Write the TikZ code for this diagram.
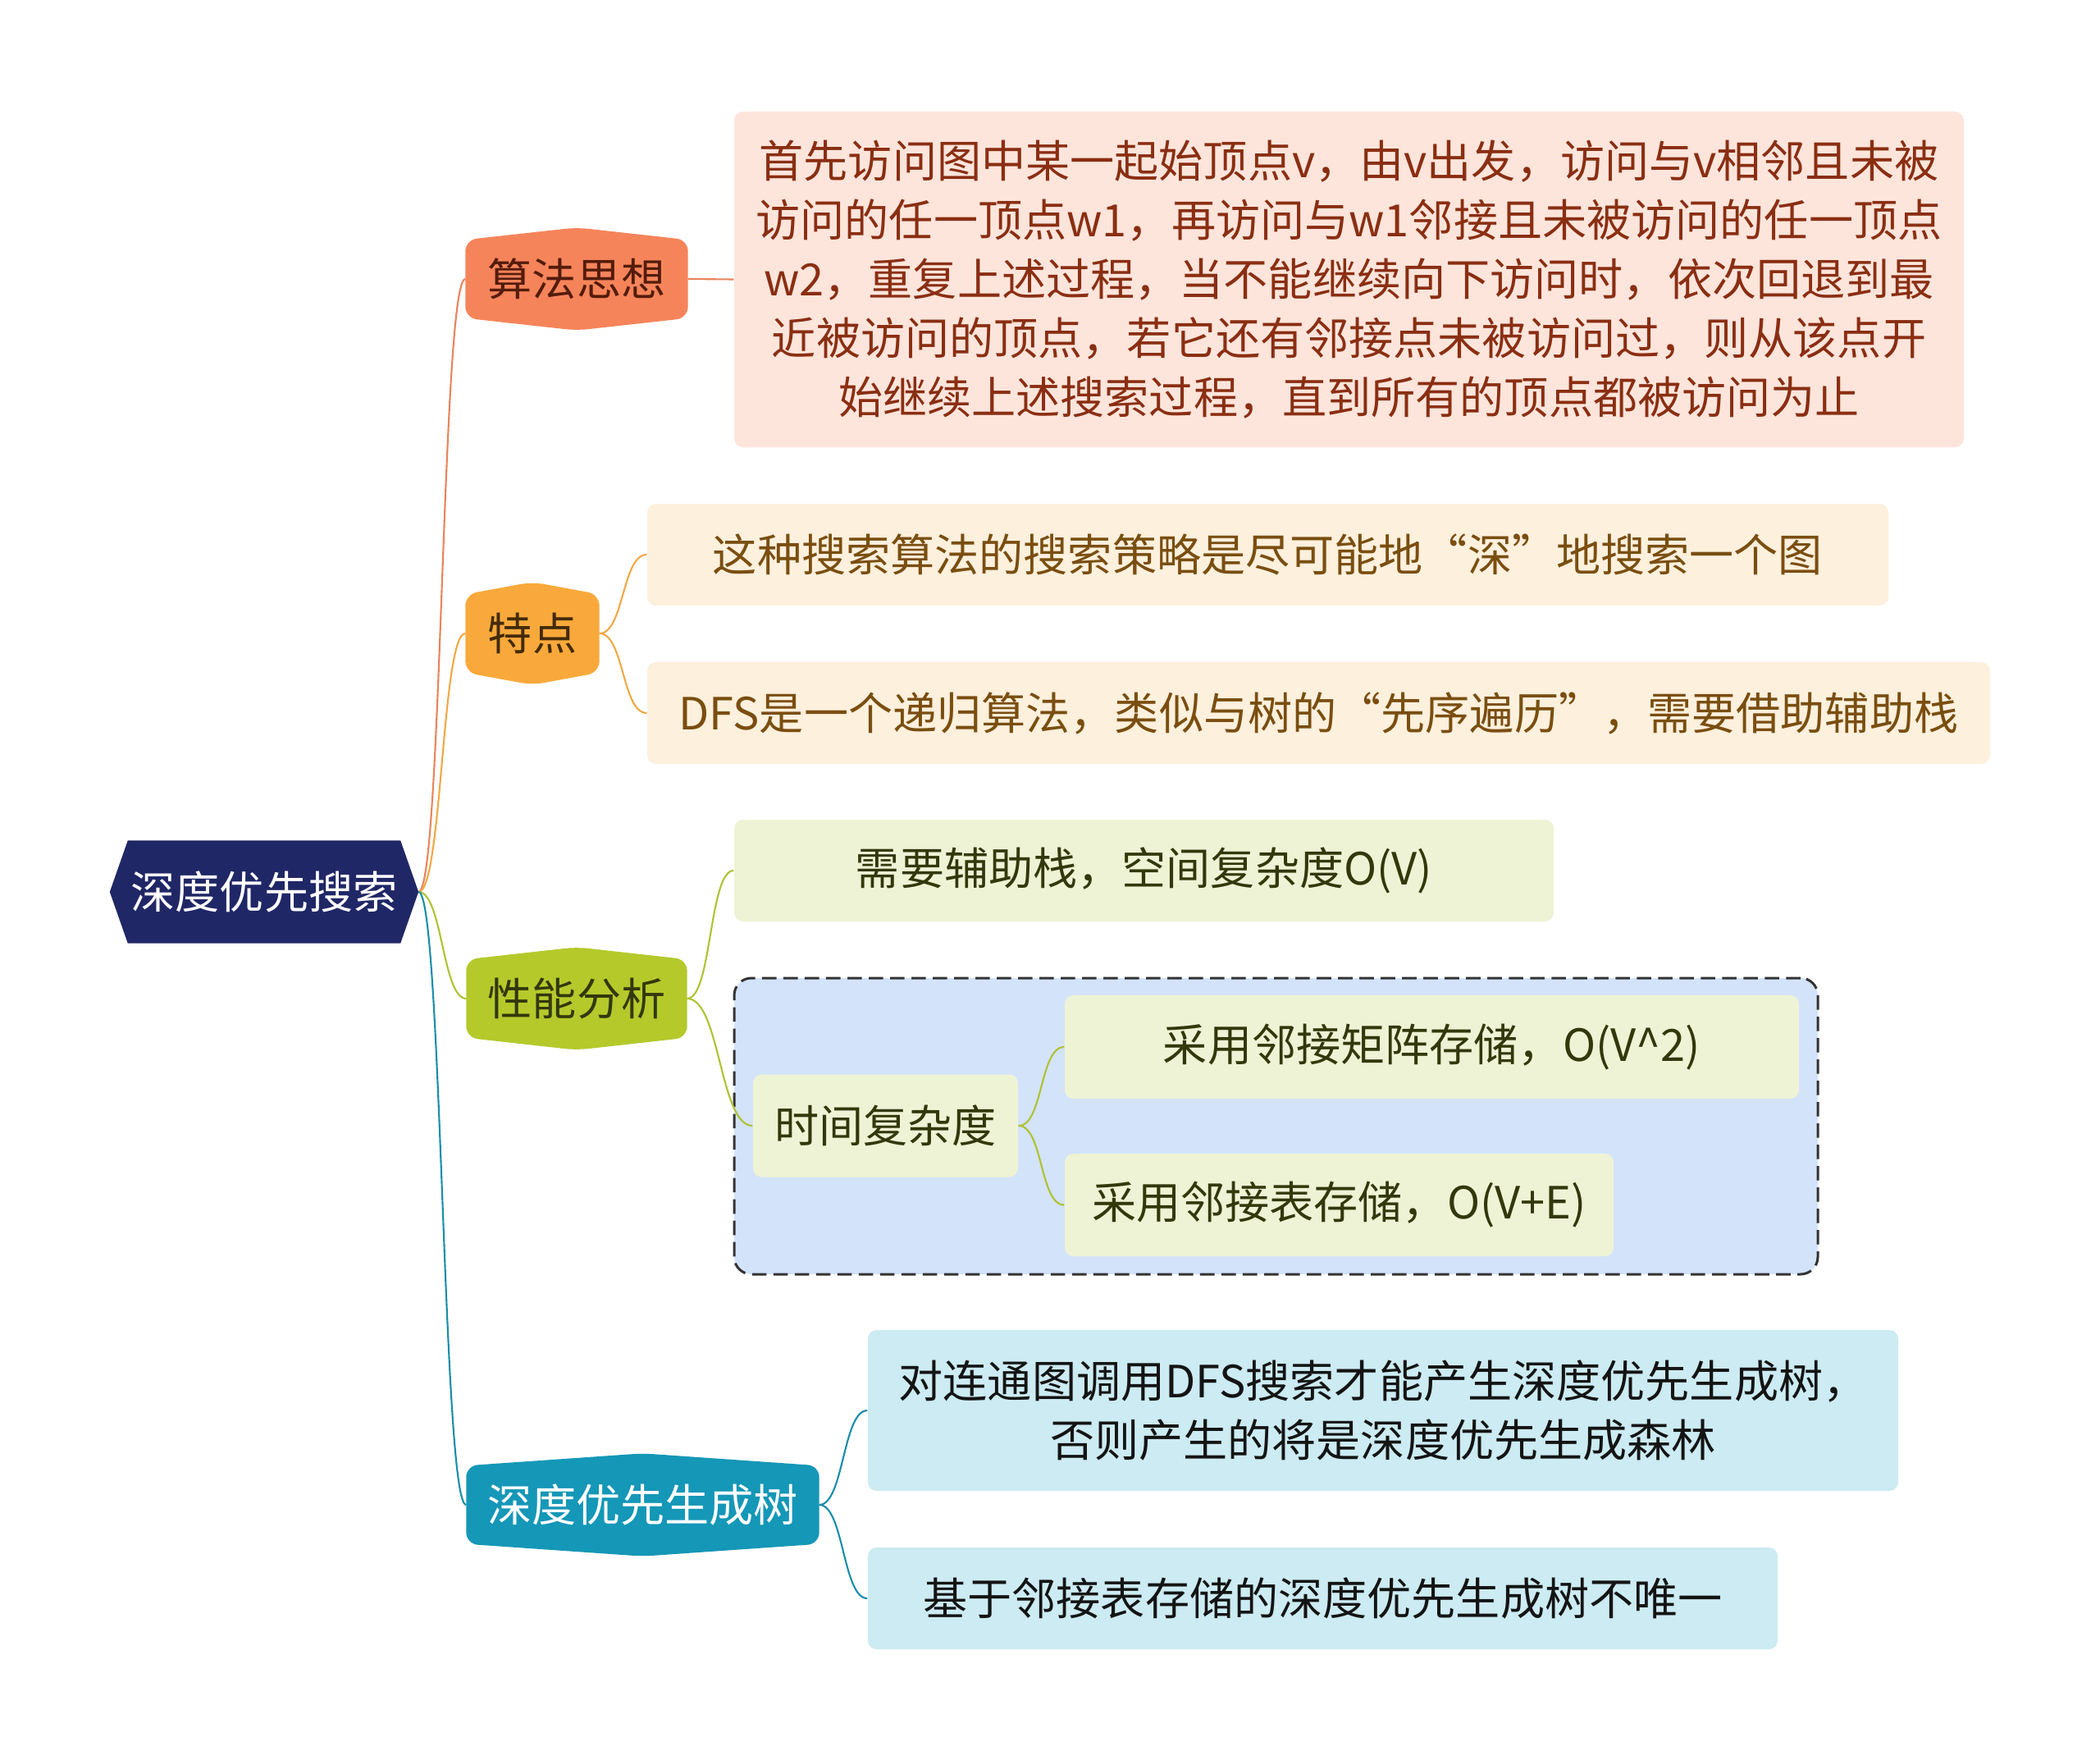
\documentclass[tikz,border=0pt]{standalone}
\usepackage{fontspec}
\setmainfont{Noto Sans CJK SC}
\usetikzlibrary{backgrounds,calc}

\definecolor{rootC}{HTML}{202766}
\definecolor{algoC}{HTML}{F6845A}
\definecolor{featC}{HTML}{F9A93B}
\definecolor{perfC}{HTML}{B5C92B}
\definecolor{treeC}{HTML}{1597B7}
\definecolor{algoL}{HTML}{E8845C}
\definecolor{featL}{HTML}{F0A845}
\definecolor{perfL}{HTML}{AFC233}
\definecolor{treeL}{HTML}{1A8DAB}
\definecolor{algoBg}{HTML}{FDE5DC}
\definecolor{featBg}{HTML}{FDF0DD}
\definecolor{perfBg}{HTML}{EFF3D5}
\definecolor{treeBg}{HTML}{CCEBF2}
\definecolor{grpBg}{HTML}{D3E3FA}
\definecolor{algoTx}{HTML}{8A2E12}
\definecolor{featTx}{HTML}{7A4E10}
\definecolor{perfTx}{HTML}{33380C}
\definecolor{treeTx}{HTML}{141414}

\begin{document}
\begin{tikzpicture}[line join=round,
  every node/.style={font=\fontsize{15.4}{20.5}\selectfont,inner sep=0pt},
  topic/.style={minimum height=1.24cm},
  leaf/.style={rounded corners=3pt,align=center,minimum height=1.24cm},
  link/.style={line width=0.6pt}]
  \useasboundingbox (0,0) rectangle (25.6,-21.45);
  % main topic and branches
  \node[text=white,minimum width=3.75cm,minimum height=1.24cm] (root) at (3.22,-10.87) {深度优先搜索};
  \node[topic,text=algoTx!60!black,minimum width=2.70cm] (algo) at (7.03,-3.40) {算法思想};
  \node[topic,text=featTx!55!black,minimum width=1.62cm] (feat) at (6.49,-7.72) {特点};
  \node[topic,text=perfTx,minimum width=2.68cm] (perf) at (7.03,-12.17) {性能分析};
  \node[topic,text=white,minimum width=4.29cm] (tree) at (7.835,-18.34) {深度优先生成树};
  % details
  \node[leaf,fill=algoBg,text=algoTx,minimum width=14.99cm,minimum height=4.09cm] (algoA) at (16.445,-3.405)
    {首先访问图中某一起始顶点v，由v出发，访问与v相邻且未被\\
     访问的任一顶点w1，再访问与w1邻接且未被访问的任一顶点\\
     w2，重复上述过程，当不能继续向下访问时，依次回退到最\\
     近被访问的顶点，若它还有邻接点未被访问过，则从该点开\\
     始继续上述搜索过程，直到所有的顶点都被访问为止};
  \node[leaf,fill=featBg,text=featTx,minimum width=15.13cm] (featA) at (15.455,-6.76) {这种搜索算法的搜索策略是尽可能地“深”地搜索一个图};
  \node[leaf,fill=featBg,text=featTx,minimum width=16.37cm] (featB) at (16.075,-8.69) {DFS是一个递归算法，类似与树的“先序遍历”，需要借助辅助栈};
  \node[leaf,fill=perfBg,text=perfTx,minimum width=9.99cm] (perfA) at (13.945,-10.61) {需要辅助栈，空间复杂度O(V)};
  \node[draw=black!80,line width=0.85pt,dash pattern=on 5pt off 2.4pt,fill=grpBg,rounded corners=6pt,
    minimum width=13.21cm,minimum height=3.61cm] (grp) at (15.555,-13.725) {};
  \node[leaf,fill=perfBg,text=perfTx,minimum width=3.23cm,minimum height=1.25cm] (time) at (10.795,-13.72) {时间复杂度};
  \node[leaf,fill=perfBg,text=perfTx,minimum width=8.95cm,minimum height=1.26cm] (timeA) at (17.455,-12.76) {采用邻接矩阵存储，O(V\textasciicircum 2)};
  \node[leaf,fill=perfBg,text=perfTx,minimum width=6.69cm,minimum height=1.25cm] (timeB) at (16.325,-14.685) {采用邻接表存储，O(V+E)};
  \node[leaf,fill=treeBg,text=treeTx,minimum width=12.56cm,minimum height=1.96cm] (treeA) at (16.86,-17.19)
    {对连通图调用DFS搜索才能产生深度优先生成树，\\否则产生的将是深度优先生成森林};
  \node[leaf,fill=treeBg,text=treeTx,minimum width=11.09cm] (treeB) at (16.125,-19.48) {基于邻接表存储的深度优先生成树不唯一};
  % hexagon bodies
  \begin{scope}[on background layer]
    \fill[rootC] ($(root.north west)+(0.22,0)$) -- ($(root.north east)+(-0.22,0)$) -- (root.east)
      -- ($(root.south east)+(-0.22,0)$) -- ($(root.south west)+(0.22,0)$) -- (root.west) -- cycle;
    \foreach \n/\c in {algo/algoC,feat/featC,perf/perfC,tree/treeC}
      \fill[\c,rounded corners=4pt] ($(\n.north west)+(0,-0.15)$) -- (\n.north) -- ($(\n.north east)+(0,-0.15)$)
        -- ($(\n.south east)+(0,0.15)$) -- (\n.south) -- ($(\n.south west)+(0,0.15)$) -- cycle;
  \end{scope}
  % connectors
  \foreach \n/\c in {algo/algoL,feat/featL,perf/perfL,tree/treeL}
    \draw[link,\c] (root.east) .. controls +(0.29,0) and +(-0.29,0) .. (\n.west);
  \draw[link,algoL] (algo.east) -- (algoA.west);
  \draw[link,featL] (feat.east) .. controls +(0.3,0) and +(-0.3,0) .. (featA.west);
  \draw[link,featL] (feat.east) .. controls +(0.3,0) and +(-0.3,0) .. (featB.west);
  \draw[link,perfL] (perf.east) .. controls +(0.3,0) and +(-0.3,0) .. (perfA.west);
  \draw[link,perfL] (perf.east) .. controls +(0.4,0) and +(-0.4,0) .. (time.west);
  \draw[link,perfL] (time.east) .. controls +(0.3,0) and +(-0.3,0) .. (timeA.west);
  \draw[link,perfL] (time.east) .. controls +(0.3,0) and +(-0.3,0) .. (timeB.west);
  \draw[link,treeL] (tree.east) .. controls +(0.3,0) and +(-0.3,0) .. (treeA.west);
  \draw[link,treeL] (tree.east) .. controls +(0.3,0) and +(-0.3,0) .. (treeB.west);
\end{tikzpicture}
\end{document}
